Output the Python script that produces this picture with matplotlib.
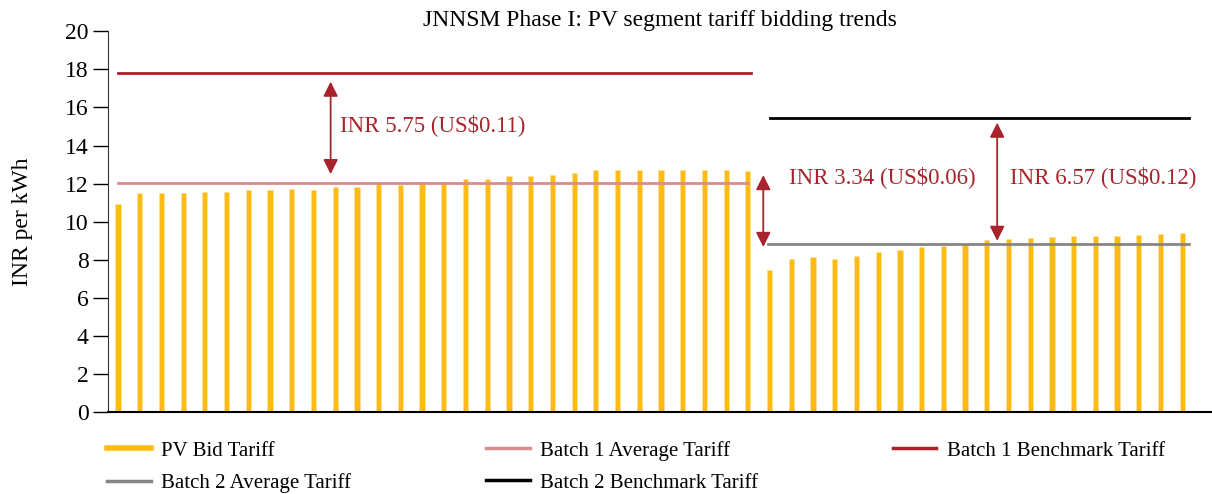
import numpy as np
import matplotlib
matplotlib.use('Agg')
import matplotlib.pyplot as plt
from matplotlib.lines import Line2D

plt.rcParams['font.family'] = ['Liberation Serif', 'DejaVu Serif']

# ---- dados ----
batch1_bids = [10.93, 11.49, 11.52, 11.52, 11.56, 11.56, 11.65, 11.68, 11.71, 11.65,
               11.84, 11.80, 12.01, 11.92, 12.08, 12.08, 12.24, 12.24, 12.40, 12.40,
               12.47, 12.55, 12.71, 12.71, 12.71, 12.71, 12.71, 12.71, 12.71, 12.66]
batch2_bids = [7.47, 8.04, 8.15, 8.06, 8.20, 8.43, 8.52, 8.67, 8.74, 8.83,
               9.04, 9.09, 9.15, 9.18, 9.23, 9.25, 9.25, 9.30, 9.34, 9.42]
batch1_avg = 12.06
batch1_benchmark = 17.81
batch2_avg = 8.85
batch2_benchmark = 15.42
yticks = [0, 2, 4, 6, 8, 10, 12, 14, 16, 18, 20]

labels_gap = ['INR 5.75 (US$0.11)', 'INR 3.34 (US$0.06)', 'INR 6.57 (US$0.12)']

c_bar = '#FDBB13'
c_avg1 = '#D98C91'
c_bench1 = '#B01E28'
c_avg2 = '#858585'
c_bench2 = '#000000'
c_note = '#A8232B'

bids = batch1_bids + batch2_bids
x = np.arange(len(bids))
n1 = len(batch1_bids)

fig = plt.figure(figsize=(12.12, 4.94), dpi=100)
ax = fig.add_axes([0.0893, 0.165, 0.9107, 0.772])

ax.bar(x, bids, width=0.24, color=c_bar, edgecolor='#FDE39A', linewidth=0.4, zorder=2)

# linhas de media e benchmark por lote
ax.plot([0, n1 - 1], [batch1_avg, batch1_avg], color=c_avg1, lw=2, zorder=3)
ax.plot([0, n1 - 0.85], [batch1_benchmark, batch1_benchmark], color=c_bench1, lw=2, zorder=3)
ax.plot([n1 - 0.05, len(bids) - 0.7], [batch2_avg, batch2_avg], color=c_avg2, lw=2, zorder=3)
ax.plot([n1, len(bids) - 0.7], [batch2_benchmark, batch2_benchmark], color=c_bench2, lw=2, zorder=3)

# setas de diferenca
arrow = dict(arrowstyle='<|-|>', color=c_note, lw=1.3, mutation_scale=22,
             shrinkA=0, shrinkB=0)
ax.annotate('', xy=(9.79, 17.35), xytext=(9.79, 12.5), arrowprops=arrow, zorder=4)
ax.annotate('', xy=(29.71, 12.45), xytext=(29.71, 8.68), arrowprops=arrow, zorder=4)
ax.annotate('', xy=(40.48, 15.2), xytext=(40.48, 9.0), arrowprops=arrow, zorder=4)

ax.text(10.22, 15.09, labels_gap[0], color=c_note, fontsize=16.5, va='center', ha='left')
ax.text(30.9, 12.34, labels_gap[1], color=c_note, fontsize=16.5, va='center', ha='left')
ax.text(41.07, 12.34, labels_gap[2], color=c_note, fontsize=16.5, va='center', ha='left')

ax.set_xlim(-0.45, 50.37)
ax.set_ylim(0, 20)
ax.set_yticks(yticks)
ax.set_xticks([])
ax.tick_params(axis='y', direction='out', length=11, width=1, labelsize=17, pad=3)
for side in ['top', 'right']:
    ax.spines[side].set_visible(False)
ax.spines['left'].set_color('#333333')
ax.spines['bottom'].set_linewidth(1.5)
ax.set_ylabel('INR per kWh', fontsize=17, labelpad=23)
ax.set_title('JNNSM Phase I: PV segment tariff bidding trends', fontsize=17, pad=3)

handles = [
    Line2D([], [], color=c_bar, lw=4),
    Line2D([], [], color=c_avg2, lw=2.5),
    Line2D([], [], color=c_avg1, lw=2.5),
    Line2D([], [], color=c_bench2, lw=2.5),
    Line2D([], [], color=c_bench1, lw=2.5),
]
names = ['PV Bid Tariff', 'Batch 2 Average Tariff', 'Batch 1 Average Tariff',
         'Batch 2 Benchmark Tariff', 'Batch 1 Benchmark Tariff']
fig.legend(handles, names, ncol=3, loc='lower left', bbox_to_anchor=(0.073, -0.036),
           frameon=False, fontsize=15, handlelength=2.1, handletextpad=0.5,
           columnspacing=6.45, labelspacing=0.6)

fig.savefig('out.png', dpi=100)
